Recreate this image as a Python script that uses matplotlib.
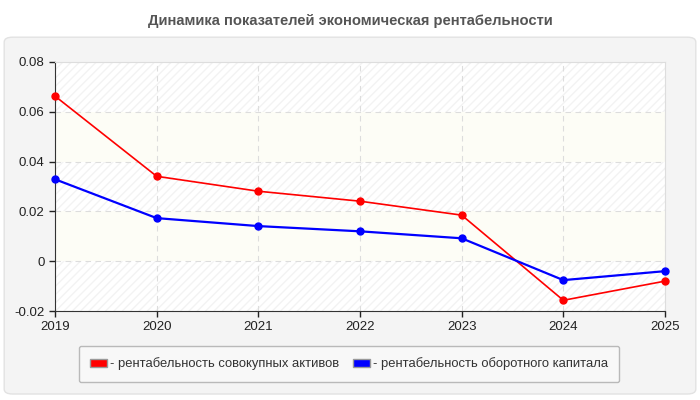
import numpy as np
import matplotlib.pyplot as plt
from matplotlib.patches import FancyBboxPatch, Patch

plt.rcParams['font.family'] = ['Liberation Sans', 'DejaVu Sans']

# --- данные ---
years = [2019, 2020, 2021, 2022, 2023, 2024, 2025]
assets = [0.0663, 0.0341, 0.0281, 0.0241, 0.0185, -0.0157, -0.0080]
working_capital = [0.0329, 0.0173, 0.0141, 0.0120, 0.0092, -0.0076, -0.0040]
y_ticks = [-0.02, 0, 0.02, 0.04, 0.06, 0.08]
y_labels = ['-0.02', '0', '0.02', '0.04', '0.06', '0.08']
title = "Динамика показателей экономическая рентабельности"
labels = ["- рентабельность совокупных активов", "- рентабельность оборотного капитала"]

fig = plt.figure(figsize=(7, 4), dpi=100)
fig.patch.set_facecolor('white')

# серая подложка
panel = FancyBboxPatch((0.006, 0.015), 0.988, 0.892, boxstyle="round,pad=0,rounding_size=0.012",
                       transform=fig.transFigure, facecolor='#f4f4f4', edgecolor='#e2e2e2',
                       linewidth=1, zorder=-5)
fig.patches.append(panel)

fig.text(0.5, 0.948, title, ha='center', va='center', fontsize=10.6, fontweight='bold', color='#555555')

ax = fig.add_axes([0.0786, 0.2225, 0.8714, 0.6225])
ax.set_zorder(2)
ax.set_facecolor('white')

# полосы фона
for i, (lo, hi) in enumerate(zip(y_ticks[:-1], y_ticks[1:])):
    if i % 2 == 0:
        ax.axhspan(lo, hi, facecolor='white', hatch='////', edgecolor='#f3f3f3', linewidth=0, zorder=0)
    else:
        ax.axhspan(lo, hi, facecolor='#fdfdf6', linewidth=0, zorder=0)

ax.plot(years, assets, color='#ff0000', lw=1.2, marker='o', ms=5, zorder=3, clip_on=False)
ax.plot(years, working_capital, color='#0000ff', lw=1.6, marker='o', ms=5, zorder=3, clip_on=False)

ax.set_xlim(2019, 2025)
ax.set_ylim(-0.02, 0.08)
ax.set_xticks(years)
ax.set_xticklabels([str(y) for y in years])
ax.set_yticks(y_ticks)
ax.set_yticklabels(y_labels)
ax.tick_params(labelsize=9.5, colors='#222222', length=4, width=1)
ax.grid(True, color='#dddddd', linestyle=(0, (5, 4)), linewidth=0.8)
ax.set_axisbelow(True)

for s in ['left', 'bottom']:
    ax.spines[s].set_color('#333333')
for s in ['top', 'right']:
    ax.spines[s].set_color('#dddddd')

handles = [Patch(facecolor='#ff0000', edgecolor='#999999'),
           Patch(facecolor='#0000ff', edgecolor='#999999')]
leg = fig.legend(handles, labels, loc='center', ncol=2, mode='expand',
                 bbox_to_anchor=(72 / 700, 1 - 383 / 400, 554 / 700, 38 / 400),
                 fontsize=9.4, frameon=True, fancybox=True, handlelength=1.3, handleheight=0.6,
                 handletextpad=0.2, borderpad=0.9, columnspacing=2)
leg.get_frame().set_facecolor('#fafafa')
leg.get_frame().set_edgecolor('#aaaaaa')
for t in leg.get_texts():
    t.set_color('#333333')

plt.savefig("out.png", dpi=100)
